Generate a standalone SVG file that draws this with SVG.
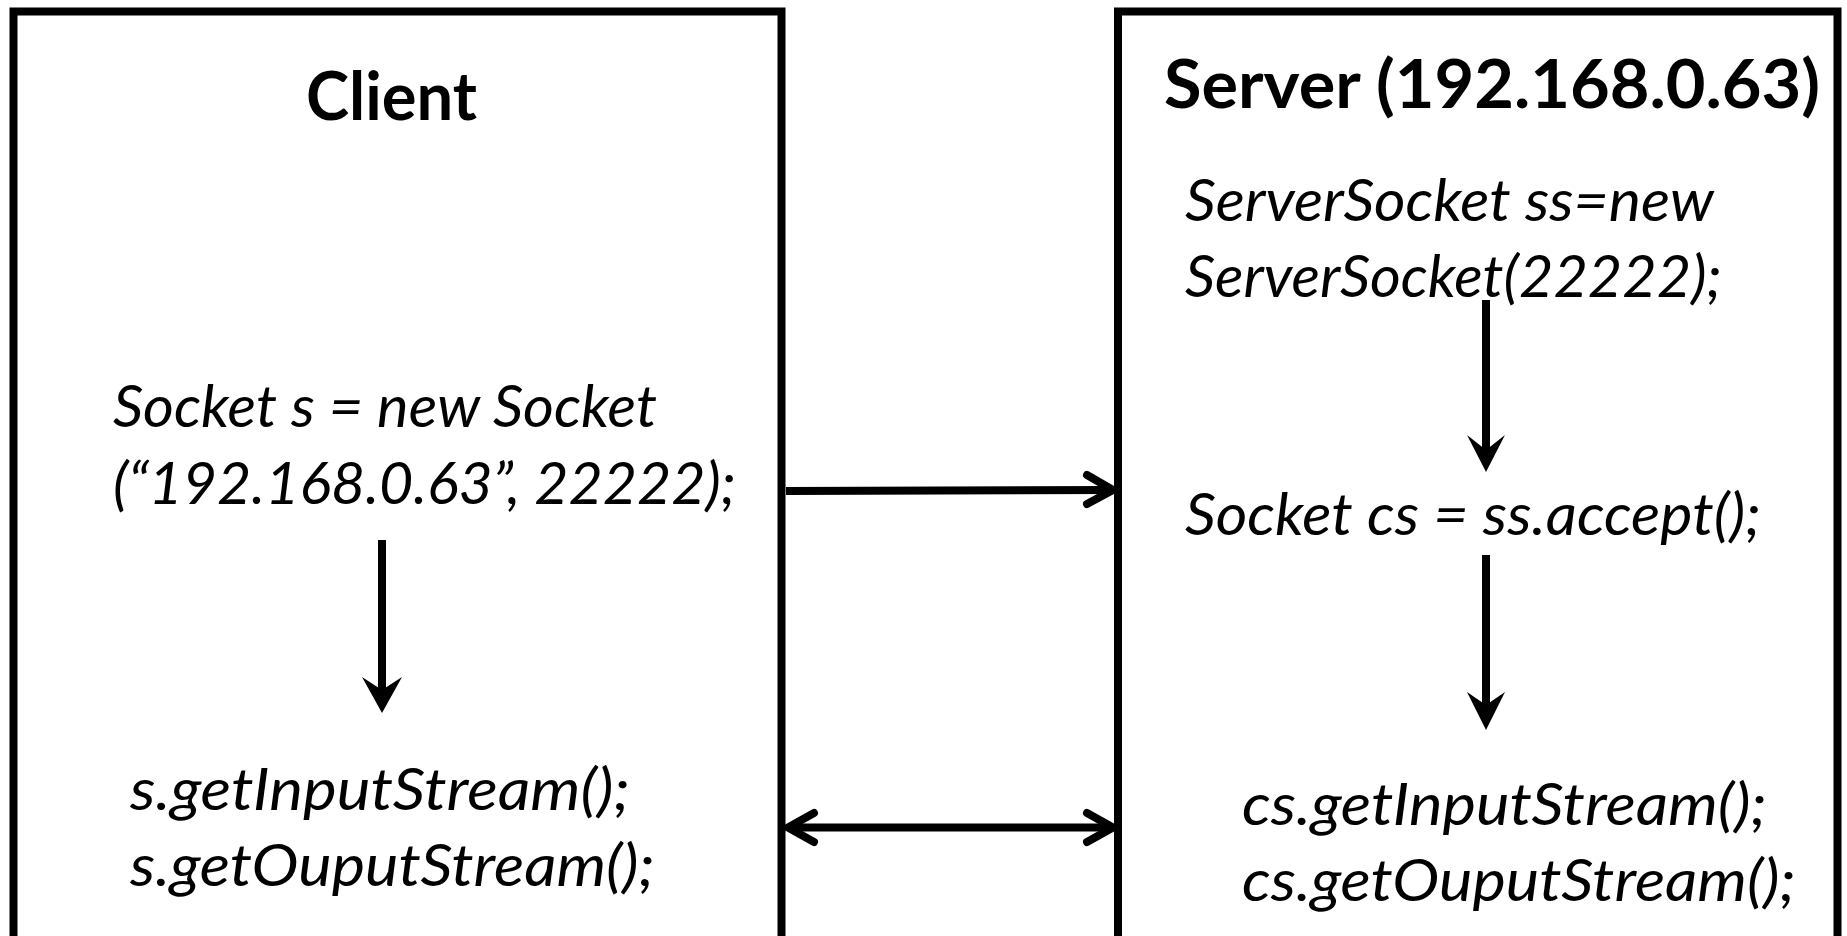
<svg xmlns="http://www.w3.org/2000/svg" width="1847" height="936" viewBox="0 0 1847 936">
<style>
.box{fill:none;stroke:#000;stroke-width:8}
.title{font-family:Lato,"Liberation Sans",sans-serif;font-weight:bold;fill:#000}
.code{font-family:Lato,"Liberation Sans",sans-serif;font-style:italic;font-size:58px;fill:#000}
.ln{stroke:#000;stroke-width:8;fill:none;stroke-linecap:round;stroke-linejoin:round}
.vl{stroke:#000;stroke-width:8;fill:none}
.head{fill:#000}
</style>
<rect width="1847" height="936" fill="#fff"/>
<g id="client">
<rect class="box" x="13.5" y="11.5" width="768" height="1000"/>
<text class="title" x="306" y="120" font-size="67" textLength="171" lengthAdjust="spacingAndGlyphs">Client</text>
<text class="code" x="113" y="427" textLength="544" lengthAdjust="spacingAndGlyphs">Socket s = new Socket</text>
<text class="code" x="113" y="504" textLength="623" lengthAdjust="spacingAndGlyphs">(“192.168.0.63”, 22222);</text>
<text class="code" x="130" y="810" textLength="500" lengthAdjust="spacingAndGlyphs">s.getInputStream();</text>
<text class="code" x="130" y="886" textLength="525" lengthAdjust="spacingAndGlyphs">s.getOuputStream();</text>
</g>
<g id="server">
<rect class="box" x="1118" y="11.5" width="719.5" height="1000"/>
<text class="title" x="1164" y="108" font-size="66" textLength="656" lengthAdjust="spacingAndGlyphs">Server (192.168.0.63)</text>
<text class="code" x="1185" y="221" textLength="529" lengthAdjust="spacingAndGlyphs">ServerSocket ss=new</text>
<text class="code" x="1185" y="297" textLength="537" lengthAdjust="spacingAndGlyphs">ServerSocket(22222);</text>
<text class="code" x="1185" y="535" textLength="576" lengthAdjust="spacingAndGlyphs">Socket cs = ss.accept();</text>
<text class="code" x="1242" y="825" textLength="525" lengthAdjust="spacingAndGlyphs">cs.getInputStream();</text>
<text class="code" x="1242" y="901" textLength="554" lengthAdjust="spacingAndGlyphs">cs.getOuputStream();</text>
</g>
<g id="connectors">
<line class="vl" x1="786" y1="491" x2="1112" y2="490"/>
<polyline class="ln" points="1087,475 1113,490 1087,504"/>
<line class="vl" x1="788" y1="827.5" x2="1112" y2="827.5"/>
<polyline class="ln" points="814,813 788,827.5 814,842"/>
<polyline class="ln" points="1087,813 1113,827.5 1087,842"/>
<line class="vl" x1="382" y1="540" x2="382" y2="692"/>
<polygon class="head" points="362,677 382,713 402,677 382,690"/>
<line class="vl" x1="1486" y1="300" x2="1486" y2="452"/>
<polygon class="head" points="1467,435 1486,472 1505,435 1486,450"/>
<line class="vl" x1="1486" y1="555" x2="1486" y2="707"/>
<polygon class="head" points="1467,692 1486,730 1505,692 1486,705"/>
</g>
</svg>
